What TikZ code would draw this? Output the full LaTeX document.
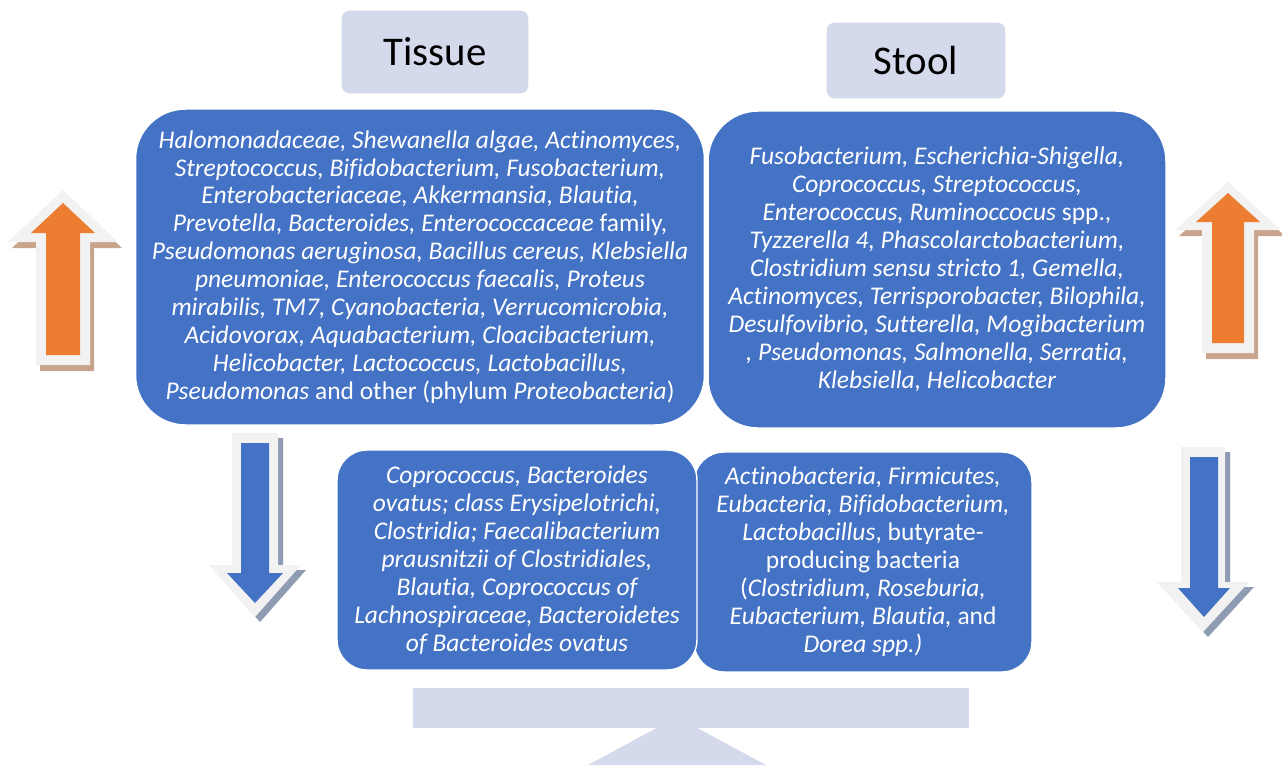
\documentclass[tikz,border=0pt]{standalone}
\usepackage{fontspec}
\setmainfont{Carlito}[Ligatures=NoCommon]
\usepackage{tikz}
\usetikzlibrary{calc,positioning}
\definecolor{myblue}{RGB}{68,114,196}
\definecolor{myorange}{RGB}{237,125,49}
\definecolor{mylavender}{RGB}{212,217,236}
\definecolor{myrim}{RGB}{242,242,242}
\definecolor{mybrown}{RGB}{201,164,140}
\definecolor{mygrey}{RGB}{143,155,179}
% block arrow: style, centre x, tip y, head base y, tail y, head half width, shaft half width
\newcommand{\blockarrow}[7]{%
  \fill[#1] (#2,#3) -- (#2+#6,#4) -- (#2+#7,#4) -- (#2+#7,#5)
    -- (#2-#7,#5) -- (#2-#7,#4) -- (#2-#6,#4) -- cycle;}

\begin{document}
\begin{tikzpicture}[
  x=0.02cm, y=-0.02cm,
  mybox/.style={
    draw=white,
    line width=0.8pt,
    fill=myblue,
    text=white,
    align=center,
    font=\fontsize{14.5}{15.9}\selectfont\itshape
  },
  myhead/.style={
    draw=white,
    line width=0.8pt,
    fill=mylavender,
    rounded corners=0.16cm,
    font=\fontsize{23.2}{27}\selectfont
  }
]
\useasboundingbox (0,0) rectangle (1282,765);

% headers
\node [myhead, minimum width=3.76cm, minimum height=1.68cm] (tissue) at (435,52) {Tissue};
\node [myhead, minimum width=3.6cm, minimum height=1.54cm] (stool) at (916,60.5) {Stool};

% increased
\node [mybox, rounded corners=1cm, minimum width=11.38cm, minimum height=6.32cm] (tissueup) at (420,267) {%
Halomonadaceae, Shewanella algae, Actinomyces,\\
Streptococcus, Bifidobacterium, Fusobacterium,\\
Enterobacteriaceae, Akkermansia, Blautia,\\
Prevotella, Bacteroides, Enterococcaceae \textup{family,}\\
Pseudomonas aeruginosa, Bacillus cereus, Klebsiella\\
pneumoniae, Enterococcus faecalis, Proteus\\
mirabilis, TM7, Cyanobacteria, Verrucomicrobia,\\
Acidovorax, Aquabacterium, Cloacibacterium,\\
Helicobacter, Lactococcus, Lactobacillus,\\
Pseudomonas \textup{and other (phylum} Proteobacteria\textup{)}};
\node [mybox, rounded corners=1cm, minimum width=9.16cm, minimum height=6.34cm] (stoolup) at (937,269.5) {%
Fusobacterium, Escherichia-Shigella,\\
Coprococcus, Streptococcus,\\
Enterococcus, Ruminoccocus \textup{spp.,}\\
Tyzzerella 4, Phascolarctobacterium,\\
Clostridium sensu stricto 1, Gemella,\\
Actinomyces, Terrisporobacter, Bilophila,\\
Desulfovibrio, Sutterella, Mogibacterium\\
, Pseudomonas, Salmonella, Serratia,\\
Klebsiella, Helicobacter};

% decreased
\node [mybox, rounded corners=0.6cm, minimum width=6.76cm, minimum height=4.4cm] (stooldown) at (863,562) {%
Actinobacteria, Firmicutes,\\
Eubacteria, Bifidobacterium,\\
Lactobacillus\textup{, butyrate-}\\
\textup{producing bacteria}\\
\textup{(}Clostridium, Roseburia,\\
Eubacterium, Blautia, \textup{and}\\
Dorea spp.)};
\node [mybox, rounded corners=0.6cm, minimum width=7.2cm, minimum height=4.4cm] (tissuedown) at (517,560) {%
Coprococcus, Bacteroides\\
ovatus; class Erysipelotrichi,\\
Clostridia; Faecalibacterium\\
prausnitzii of Clostridiales,\\
Blautia, Coprococcus of\\
Lachnospiraceae, Bacteroidetes\\
of Bacteroides ovatus};

% balance
\fill [mylavender] (677,717) -- (766,765) -- (588,765) -- cycle;
\node [fill=mylavender, minimum width=11.12cm, minimum height=0.8cm, inner sep=0pt] (beam) at (691,708) {};

% up arrows
\blockarrow{mybrown, shift={(4,6)}}{63}{190}{242}{365}{55}{27}
\blockarrow{myrim}{63}{190}{242}{365}{55}{27}
\blockarrow{myorange}{63}{203}{233}{355}{32}{17}
\blockarrow{mybrown, shift={(4,6)}}{1228}{182}{230}{353}{53}{26}
\blockarrow{myrim}{1228}{182}{230}{353}{53}{26}
\blockarrow{myorange}{1228}{193}{222}{343}{32}{16}

% down arrows
\blockarrow{mygrey, shift={(5,5)}}{255}{617}{565}{433}{46}{23}
\blockarrow{myrim}{255}{617}{565}{433}{46}{23}
\blockarrow{myblue}{255}{603}{573}{443}{28}{14}
\blockarrow{mygrey, shift={(5,5)}}{1203}{632}{582}{447}{46}{22}
\blockarrow{myrim}{1203}{632}{582}{447}{46}{22}
\blockarrow{myblue}{1204}{617}{588}{457}{26}{14}

\end{tikzpicture}
\end{document}
